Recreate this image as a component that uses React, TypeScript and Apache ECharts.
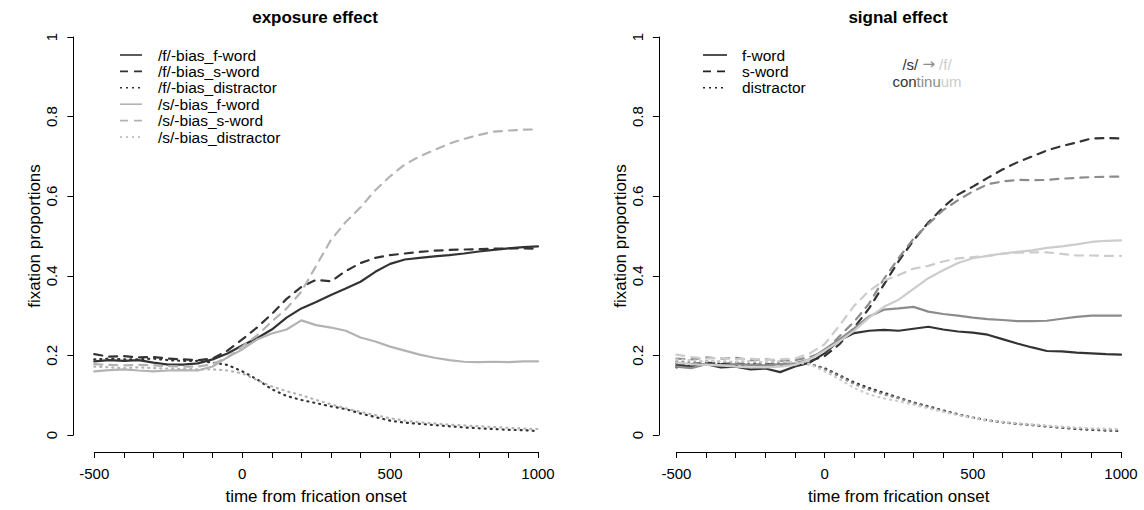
import React, { useEffect, useRef } from "react";
import * as echarts from "echarts";

// time (ms from frication onset)
const time = [-500, -450, -400, -350, -300, -250, -200, -150, -100, -50, 0, 50, 100, 150, 200, 250, 300, 350, 400, 450, 500, 550, 600, 650, 700, 750, 800, 850, 900, 950, 1000];

// exposure effect panel
const fBiasFWord = [0.185, 0.188, 0.186, 0.188, 0.182, 0.177, 0.177, 0.180, 0.190, 0.205, 0.225, 0.243, 0.265, 0.295, 0.318, 0.334, 0.352, 0.368, 0.385, 0.410, 0.430, 0.441, 0.445, 0.449, 0.452, 0.456, 0.461, 0.465, 0.469, 0.472, 0.474];
const fBiasSWord = [0.203, 0.197, 0.198, 0.195, 0.196, 0.192, 0.190, 0.188, 0.192, 0.212, 0.240, 0.270, 0.304, 0.342, 0.372, 0.390, 0.386, 0.412, 0.432, 0.445, 0.452, 0.456, 0.460, 0.463, 0.465, 0.466, 0.467, 0.468, 0.469, 0.469, 0.468];
const fBiasDistr = [0.190, 0.192, 0.190, 0.190, 0.192, 0.188, 0.186, 0.186, 0.182, 0.176, 0.160, 0.140, 0.115, 0.098, 0.088, 0.080, 0.072, 0.065, 0.054, 0.045, 0.036, 0.031, 0.028, 0.025, 0.022, 0.019, 0.017, 0.015, 0.013, 0.012, 0.010];
const sBiasFWord = [0.160, 0.163, 0.165, 0.162, 0.160, 0.162, 0.163, 0.162, 0.172, 0.195, 0.215, 0.240, 0.255, 0.265, 0.288, 0.276, 0.270, 0.262, 0.245, 0.235, 0.222, 0.212, 0.202, 0.194, 0.188, 0.184, 0.183, 0.184, 0.183, 0.185, 0.185];
const sBiasSWord = [0.178, 0.176, 0.175, 0.176, 0.175, 0.173, 0.172, 0.172, 0.178, 0.195, 0.222, 0.250, 0.285, 0.318, 0.360, 0.425, 0.490, 0.535, 0.572, 0.615, 0.650, 0.680, 0.700, 0.716, 0.732, 0.744, 0.754, 0.762, 0.765, 0.767, 0.768];
const sBiasDistr = [0.172, 0.170, 0.168, 0.170, 0.168, 0.167, 0.166, 0.165, 0.165, 0.162, 0.155, 0.138, 0.122, 0.110, 0.100, 0.088, 0.077, 0.067, 0.058, 0.050, 0.042, 0.036, 0.032, 0.029, 0.026, 0.024, 0.022, 0.020, 0.018, 0.016, 0.015];

// signal effect panel (continuum steps 1 = /s/ ... 3 = /f/)
const c1FWord = [0.175, 0.172, 0.178, 0.170, 0.172, 0.165, 0.167, 0.158, 0.172, 0.182, 0.205, 0.238, 0.256, 0.262, 0.264, 0.262, 0.267, 0.272, 0.265, 0.260, 0.257, 0.252, 0.241, 0.230, 0.220, 0.211, 0.210, 0.207, 0.205, 0.203, 0.202];
const c2FWord = [0.172, 0.168, 0.178, 0.175, 0.178, 0.176, 0.175, 0.178, 0.180, 0.190, 0.215, 0.240, 0.268, 0.298, 0.315, 0.318, 0.322, 0.310, 0.304, 0.300, 0.295, 0.291, 0.289, 0.286, 0.286, 0.287, 0.292, 0.297, 0.300, 0.300, 0.300];
const c3FWord = [0.182, 0.178, 0.176, 0.175, 0.172, 0.170, 0.170, 0.172, 0.176, 0.190, 0.212, 0.235, 0.262, 0.295, 0.322, 0.340, 0.367, 0.394, 0.414, 0.432, 0.444, 0.450, 0.456, 0.460, 0.464, 0.470, 0.474, 0.479, 0.485, 0.488, 0.489];
const c1SWord = [0.180, 0.178, 0.182, 0.178, 0.180, 0.176, 0.178, 0.176, 0.178, 0.186, 0.198, 0.228, 0.270, 0.318, 0.378, 0.437, 0.489, 0.534, 0.572, 0.604, 0.624, 0.646, 0.667, 0.685, 0.700, 0.715, 0.726, 0.735, 0.745, 0.746, 0.745];
const c2SWord = [0.192, 0.190, 0.195, 0.192, 0.194, 0.188, 0.190, 0.186, 0.188, 0.196, 0.210, 0.248, 0.285, 0.330, 0.392, 0.445, 0.493, 0.530, 0.565, 0.590, 0.612, 0.630, 0.637, 0.641, 0.640, 0.641, 0.644, 0.646, 0.648, 0.649, 0.649];
const c3SWord = [0.202, 0.196, 0.192, 0.194, 0.190, 0.192, 0.188, 0.190, 0.192, 0.205, 0.228, 0.275, 0.325, 0.362, 0.388, 0.402, 0.418, 0.425, 0.436, 0.444, 0.447, 0.450, 0.455, 0.458, 0.459, 0.459, 0.455, 0.451, 0.451, 0.450, 0.450];
const c1Distr = [0.170, 0.175, 0.180, 0.178, 0.176, 0.178, 0.176, 0.178, 0.178, 0.178, 0.168, 0.150, 0.132, 0.118, 0.106, 0.094, 0.082, 0.072, 0.062, 0.052, 0.044, 0.037, 0.032, 0.028, 0.025, 0.021, 0.018, 0.015, 0.013, 0.011, 0.010];
const c2Distr = [0.185, 0.182, 0.186, 0.184, 0.183, 0.185, 0.182, 0.184, 0.182, 0.180, 0.165, 0.147, 0.128, 0.114, 0.102, 0.092, 0.080, 0.070, 0.060, 0.051, 0.043, 0.036, 0.032, 0.028, 0.025, 0.022, 0.019, 0.017, 0.015, 0.013, 0.012];
const c3Distr = [0.190, 0.188, 0.185, 0.186, 0.184, 0.186, 0.183, 0.185, 0.182, 0.178, 0.160, 0.140, 0.118, 0.102, 0.092, 0.085, 0.076, 0.067, 0.058, 0.050, 0.043, 0.037, 0.033, 0.030, 0.027, 0.024, 0.021, 0.019, 0.017, 0.016, 0.015];

const leftLegend = ["/f/-bias_f-word", "/f/-bias_s-word", "/f/-bias_distractor", "/s/-bias_f-word", "/s/-bias_s-word", "/s/-bias_distractor"];
const rightLegend = ["f-word", "s-word", "distractor"];
const panelTitles = ["exposure effect", "signal effect"];
const xTitle = "time from frication onset";
const yTitle = "fixation proportions";

const FONT = '"Liberation Sans", Arial, Helvetica, sans-serif';
const DARK = "#333333";
const LIGHT_L = "#b3b3b3";
const MID = "#8c8c8c";
const LIGHT_R = "#cccccc";
const SOLID: any = "solid";
const DASH = [8, 7];
const DOT = [1, 5];

function pairs(vals: number[]) {
  return time.map((t, i) => [t, vals[i]]);
}

function line(name: string, vals: number[], color: string, type: any, idx: number) {
  return {
    name,
    type: "line",
    xAxisIndex: idx,
    yAxisIndex: idx,
    data: pairs(vals),
    symbol: "none",
    silent: true,
    lineStyle: { color, width: 2.2, type, cap: "round", join: "round" },
  };
}

function xAxis(idx: number) {
  return {
    type: "value",
    gridIndex: idx,
    min: -500,
    max: 1000,
    interval: 100,
    offset: 17,
    name: xTitle,
    nameLocation: "middle",
    nameGap: 36,
    nameTextStyle: { fontFamily: FONT, fontSize: 17, color: "#000" },
    axisLine: { show: true, onZero: false, lineStyle: { color: "#000", width: 1 } },
    axisTick: { show: true, inside: false, length: 6, lineStyle: { color: "#000", width: 1 } },
    axisLabel: {
      margin: 14,
      fontFamily: FONT,
      fontSize: 15,
      color: "#000",
      formatter: (v: number) => (v % 500 === 0 ? String(v) : ""),
    },
    splitLine: { show: false },
  };
}

function yAxis(idx: number, offset: number) {
  return {
    type: "value",
    gridIndex: idx,
    min: 0,
    max: 1,
    interval: 0.2,
    offset,
    name: yTitle,
    nameLocation: "middle",
    nameGap: 28,
    nameTextStyle: { fontFamily: FONT, fontSize: 17, color: "#000" },
    axisLine: { show: true, onZero: false, lineStyle: { color: "#000", width: 1 } },
    axisTick: { show: true, inside: false, length: 6, lineStyle: { color: "#000", width: 1 } },
    axisLabel: {
      margin: 14,
      rotate: 90,
      fontFamily: FONT,
      fontSize: 15,
      color: "#000",
      formatter: (v: number) => String(Math.round(v * 10) / 10),
    },
    splitLine: { show: false },
  };
}

function legendGraphics(labels: string[], colors: string[], types: any[], x1: number, x2: number, tx: number, y0: number, dy: number) {
  const out: any[] = [];
  labels.forEach((lab, i) => {
    const y = y0 + i * dy;
    out.push({
      type: "line",
      shape: { x1, y1: y, x2, y2: y },
      style: {
        stroke: colors[i],
        lineWidth: 1.6,
        lineDash: types[i] === "solid" ? null : types[i] === "dash" ? [8, 6] : [2, 4],
      },
      silent: true,
    });
    out.push({
      type: "text",
      x: tx,
      y,
      style: { text: lab, fill: "#000", font: `15.5px ${FONT}`, align: "left", verticalAlign: "middle" },
      silent: true,
    });
  });
  return out;
}

export default function App() {
  const ref = useRef<HTMLDivElement>(null);
  useEffect(() => {
    if (!ref.current) return;
    const chart = echarts.init(ref.current, null, { renderer: "svg" });
    const series = [
      line("/f/-bias_f-word", fBiasFWord, DARK, SOLID, 0),
      line("/f/-bias_s-word", fBiasSWord, DARK, DASH, 0),
      line("/f/-bias_distractor", fBiasDistr, DARK, DOT, 0),
      line("/s/-bias_f-word", sBiasFWord, LIGHT_L, SOLID, 0),
      line("/s/-bias_s-word", sBiasSWord, LIGHT_L, DASH, 0),
      line("/s/-bias_distractor", sBiasDistr, LIGHT_L, DOT, 0),
      line("step1 f-word", c1FWord, DARK, SOLID, 1),
      line("step1 s-word", c1SWord, DARK, DASH, 1),
      line("step1 distractor", c1Distr, DARK, DOT, 1),
      line("step2 f-word", c2FWord, MID, SOLID, 1),
      line("step2 s-word", c2SWord, MID, DASH, 1),
      line("step2 distractor", c2Distr, MID, DOT, 1),
      line("step3 f-word", c3FWord, LIGHT_R, SOLID, 1),
      line("step3 s-word", c3SWord, LIGHT_R, DASH, 1),
      line("step3 distractor", c3Distr, LIGHT_R, DOT, 1),
    ];
    const richStyles = {
      a: { fill: DARK, fontSize: 15, fontFamily: FONT },
      b: { fill: MID, fontSize: 15, fontFamily: FONT },
      r: { fill: MID, fontSize: 15, fontFamily: '"DejaVu Sans", sans-serif' },
      c: { fill: LIGHT_R, fontSize: 15, fontFamily: FONT },
    };
    const graphic: any[] = [
      {
        type: "text",
        x: 315,
        y: 17,
        style: { text: panelTitles[0], fill: "#000", font: `bold 17px ${FONT}`, align: "center", verticalAlign: "middle" },
        silent: true,
      },
      {
        type: "text",
        x: 898,
        y: 17,
        style: { text: panelTitles[1], fill: "#000", font: `bold 17px ${FONT}`, align: "center", verticalAlign: "middle" },
        silent: true,
      },
      ...legendGraphics(
        leftLegend,
        [DARK, DARK, DARK, LIGHT_L, LIGHT_L, LIGHT_L],
        ["solid", "dash", "dot", "solid", "dash", "dot"],
        120, 142, 158, 55, 16.4
      ),
      ...legendGraphics(rightLegend, ["#222", "#222", "#222"], ["solid", "dash", "dot"], 703, 727, 742, 55, 16.4),
      {
        type: "text",
        x: 927,
        y: 64,
        style: {
          text: "{a|/s/} {r|→} {c|/f/}",
          font: `15px ${FONT}`,
          align: "center",
          verticalAlign: "middle",
          rich: richStyles,
        },
        silent: true,
      },
      {
        type: "text",
        x: 927,
        y: 81,
        style: {
          text: "{a|con}{b|tinu}{c|um}",
          font: `15px ${FONT}`,
          align: "center",
          verticalAlign: "middle",
          rich: richStyles,
        },
        silent: true,
      },
    ];
    chart.setOption({
      animation: false,
      backgroundColor: "#ffffff",
      grid: [
        { left: 94.3, top: 37, width: 443.7, height: 398 },
        { left: 676.4, top: 37, width: 444.6, height: 398 },
      ],
      xAxis: [xAxis(0), xAxis(1)],
      yAxis: [yAxis(0, 21), yAxis(1, 17.5)],
      series,
      graphic,
    } as any);
    return () => chart.dispose();
  }, []);
  return (
    <div
      ref={ref}
      style={{ position: "fixed", left: 0, top: 0, width: 1144, height: 510, background: "#fff" }}
    />
  );
}
